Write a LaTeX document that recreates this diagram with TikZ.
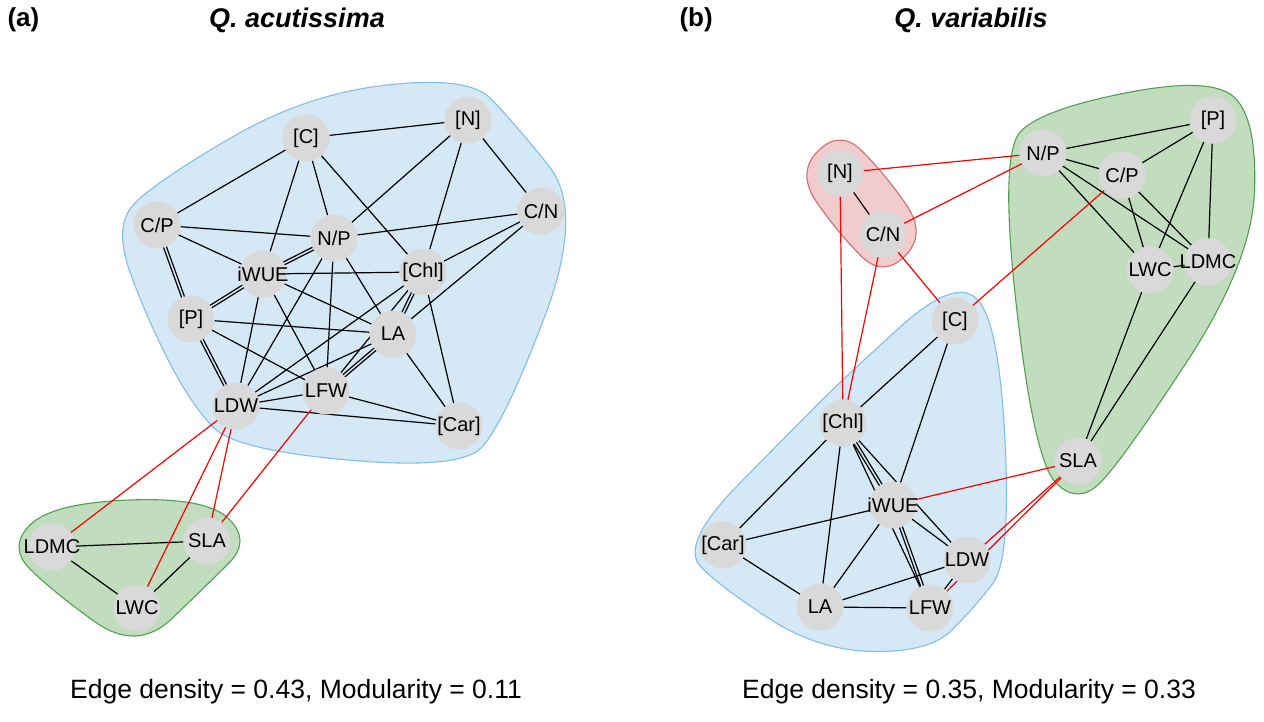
\documentclass[tikz,border=0pt]{standalone}
\usepackage{fontspec}
\setmainfont{Liberation Sans}
\usetikzlibrary{calc}
\pgfdeclarelayer{bg}\pgfdeclarelayer{edges}
\pgfsetlayers{bg,edges,main}
\definecolor{nodegray}{RGB}{217,217,217}
\definecolor{bluefill}{RGB}{212,232,245}
\definecolor{blueline}{RGB}{130,190,230}
\definecolor{greenfill}{RGB}{193,221,190}
\definecolor{greenline}{RGB}{80,160,80}
\definecolor{redfill}{RGB}{242,204,204}
\definecolor{redline}{RGB}{205,110,110}
\definecolor{edgered}{RGB}{255,0,0}
\newcommand\mkl[1]{\makebox[0pt]{#1}}
\newcommand\dbl[3][]{%
  \draw[edge,#1] ($(#2)!1.5pt!90:(#3)$) -- ($(#3)!1.5pt!-90:(#2)$);
  \draw[edge,#1] ($(#2)!1.5pt!-90:(#3)$) -- ($(#3)!1.5pt!90:(#2)$);}
\newcommand\blob[3]{% style, start pair, list
  \path[#1] ($#2$) foreach \pa/\cu/\nx in {#3} { .. controls ($(\cu)!.1667!(\pa)$) and ($(\cu)!.1667!(\nx)$) .. ($(\cu)!.5!(\nx)$) } -- cycle;}
\begin{document}
\begin{tikzpicture}[x=1pt,y=-1pt,
  vert/.style={circle, fill=nodegray, minimum size=47pt, inner sep=0pt, font=\fontsize{20}{20}\selectfont},
  edge/.style={line width=1.2pt, black},
  redge/.style={line width=1.2pt, edgered},
  bluehull/.style={fill=bluefill, draw=blueline, line width=1.1pt},
  greenhull/.style={fill=greenfill, draw=greenline, line width=1.1pt},
  redhull/.style={fill=redfill, draw=redline, line width=1.1pt},
  hdr/.style={font=\fontsize{26}{26}\selectfont\bfseries},
  ttl/.style={font=\fontsize{27}{27}\selectfont\bfseries\itshape},
  foot/.style={font=\fontsize{26.5}{26.5}\selectfont}]
\useasboundingbox (0,0) rectangle (1264,722);
% titles
\node[hdr, anchor=west] (lbla) at (4,20) {(a)};
\node[ttl] (ttla) at (297,20) {Q. acutissima};
\node[hdr, anchor=west] (lblb) at (676,20) {(b)};
\node[ttl] (ttlb) at (971,20) {Q. variabilis};
\node[foot] (fta) at (296,692) {Edge density = 0.43, Modularity = 0.11};
\node[foot] (ftb) at (969,692) {Edge density = 0.35, Modularity = 0.33};
% ---------- panel (a) nodes
\node[vert] (aC) at (306,138) {\mkl{[C]}};
\node[vert] (aN) at (468,120) {\mkl{[N]}};
\node[vert] (aCN) at (541,211) {\mkl{C/N}};
\node[vert] (aCP) at (157,225) {\mkl{C/P}};
\node[vert] (aNP) at (334,238) {\mkl{N/P}};
\node[vert] (aW) at (263,274) {\mkl{iWUE}};
\node[vert] (aChl) at (423,272) {\mkl{[Chl]}};
\node[vert] (aP) at (191,319) {\mkl{[P]}};
\node[vert] (aLA) at (393,334) {\mkl{LA}};
\node[vert] (aLFW) at (326,391) {\mkl{LFW}};
\node[vert] (aLDW) at (236,406) {\mkl{LDW}};
\node[vert] (aCar) at (459,426) {\mkl{[Car]}};
\node[vert] (aLDMC) at (52,547) {\mkl{LDMC}};
\node[vert] (aSLA) at (207,541) {\mkl{SLA}};
\node[vert] (aLWC) at (137,608) {\mkl{LWC}};
% ---------- panel (b) nodes
\node[vert] (bN) at (840,173) {\mkl{[N]}};
\node[vert] (bCN) at (883,234) {\mkl{C/N}};
\node[vert] (bNP) at (1043,153) {\mkl{N/P}};
\node[vert] (bP) at (1213,120) {\mkl{[P]}};
\node[vert] (bCP) at (1122,175) {\mkl{C/P}};
\node[vert] (bLWC) at (1150,270) {\mkl{LWC}};
\node[vert] (bLDMC) at (1208,262) {\mkl{LDMC}};
\node[vert] (bC) at (955,321) {\mkl{[C]}};
\node[vert] (bChl) at (843,423) {\mkl{[Chl]}};
\node[vert] (bSLA) at (1078,461) {\mkl{SLA}};
\node[vert] (bW) at (893,505) {\mkl{iWUE}};
\node[vert] (bCar) at (723,545) {\mkl{[Car]}};
\node[vert] (bLDW) at (967,560) {\mkl{LDW}};
\node[vert] (bLA) at (820,607) {\mkl{LA}};
\node[vert] (bLFW) at (930,608) {\mkl{LFW}};
% ---------- hull control points
\def\dd{44}
% (a) blue
\coordinate (ab1) at ($(aCP)+(-\dd,0)$);
\coordinate (ab2) at ($(aCP)+(0,-\dd)$);
\coordinate (ab3) at ($(aC)+(0,-\dd)$);
\coordinate (ab4) at ($(aN)+(0,-\dd)$);
\coordinate (ab5) at ($(aN)+(\dd,0)$);
\coordinate (ab6) at ($(aCN)+(\dd,0)$);
\coordinate (ab7) at ($(aCar)+(\dd,0)$);
\coordinate (ab8) at ($(aCar)+(0,\dd)$);
\coordinate (ab9) at ($(aLDW)+(0,\dd)$);
\coordinate (ab10) at ($(aLDW)+(-\dd,0)$);
\coordinate (ab11) at ($(aP)+(-\dd,0)$);
% (a) green
\coordinate (ag1) at ($(aLDMC)+(-\dd,0)$);
\coordinate (ag2) at ($(aLDMC)+(0,-\dd)$);
\coordinate (ag3) at ($(aSLA)+(0,-\dd)$);
\coordinate (ag4) at ($(aSLA)+(\dd,0)$);
\coordinate (ag5) at ($(aSLA)+(0,\dd)$);
\coordinate (ag6) at ($(aLWC)+(0,\dd)$);
\coordinate (ag7) at ($(aLDMC)+(0,\dd)$);
% (b) red
\coordinate (br1) at ($(bN)+(-\dd,0)$);
\coordinate (br2) at ($(bN)+(0,-\dd)$);
\coordinate (br3) at ($(bN)+(\dd,0)$);
\coordinate (br4) at ($(bCN)+(\dd,0)$);
\coordinate (br5) at ($(bCN)+(0,\dd)$);
\coordinate (br6) at ($(bCN)+(-\dd,0)$);
% (b) blue
\coordinate (bb1) at ($(bCar)+(-\dd,0)$);
\coordinate (bb2) at ($(bChl)+(-\dd,0)$);
\coordinate (bb3) at ($(bChl)+(0,-\dd)$);
\coordinate (bb4) at ($(bC)+(0,-\dd)$);
\coordinate (bb5) at ($(bC)+(\dd,0)$);
\coordinate (bb6) at ($(bLDW)+(\dd,0)$);
\coordinate (bb7) at ($(bLFW)+(\dd,0)$);
\coordinate (bb8) at ($(bLFW)+(0,\dd)$);
\coordinate (bb9) at ($(bLA)+(0,\dd)$);
\coordinate (bb10) at ($(bCar)+(0,\dd)$);
% (b) green
\coordinate (bg1) at ($(bNP)+(-\dd,0)$);
\coordinate (bg2) at ($(bNP)+(0,-\dd)$);
\coordinate (bg3) at ($(bP)+(0,-\dd)$);
\coordinate (bg4) at ($(bP)+(\dd,0)$);
\coordinate (bg5) at ($(bLDMC)+(\dd,0)$);
\coordinate (bg6) at ($(bSLA)+(\dd,0)$);
\coordinate (bg7) at ($(bSLA)+(0,\dd)$);
\coordinate (bg8) at ($(bSLA)+(-\dd,0)$);
\begin{pgfonlayer}{bg}
\fill[white] (0,0) rectangle (1264,722);
\blob{bluehull}{(ab11)!.5!(ab1)}{ab11/ab1/ab2, ab1/ab2/ab3, ab2/ab3/ab4, ab3/ab4/ab5, ab4/ab5/ab6, ab5/ab6/ab7, ab6/ab7/ab8, ab7/ab8/ab9, ab8/ab9/ab10, ab9/ab10/ab11, ab10/ab11/ab1}
\blob{greenhull}{(ag7)!.5!(ag1)}{ag7/ag1/ag2, ag1/ag2/ag3, ag2/ag3/ag4, ag3/ag4/ag5, ag4/ag5/ag6, ag5/ag6/ag7, ag6/ag7/ag1}
\blob{redhull}{(br6)!.5!(br1)}{br6/br1/br2, br1/br2/br3, br2/br3/br4, br3/br4/br5, br4/br5/br6, br5/br6/br1}
\blob{bluehull}{(bb10)!.5!(bb1)}{bb10/bb1/bb2, bb1/bb2/bb3, bb2/bb3/bb4, bb3/bb4/bb5, bb4/bb5/bb6, bb5/bb6/bb7, bb6/bb7/bb8, bb7/bb8/bb9, bb8/bb9/bb10, bb9/bb10/bb1}
\blob{greenhull}{(bg8)!.5!(bg1)}{bg8/bg1/bg2, bg1/bg2/bg3, bg2/bg3/bg4, bg3/bg4/bg5, bg4/bg5/bg6, bg5/bg6/bg7, bg6/bg7/bg8, bg7/bg8/bg1}
\end{pgfonlayer}
\begin{pgfonlayer}{edges}
% ---- (a) black
\foreach \u/\v in {aC/aN, aC/aCP, aC/aW, aC/aNP, aC/aChl, aN/aNP, aN/aChl, aN/aCN,
  aCN/aNP, aCN/aChl, aCN/aLA, aCP/aNP, aCP/aW, aNP/aLA, aNP/aLFW, aNP/aLDW,
  aW/aChl, aW/aLA, aW/aLFW, aW/aLDW, aChl/aLDW, aChl/aLFW, aChl/aCar,
  aP/aLA, aP/aLFW, aLA/aLDW, aLA/aCar, aLFW/aLDW, aLFW/aCar, aLDW/aCar,
  aLDMC/aSLA, aLDMC/aLWC, aSLA/aLWC}
  {\draw[edge] (\u) -- (\v);}
\dbl{aCP}{aP}
\dbl{aP}{aW}
\dbl{aW}{aNP}
\dbl{aP}{aLDW}
\dbl{aChl}{aLA}
\dbl{aLA}{aLFW}
% ---- (a) red
\foreach \u/\v in {aLDW/aLDMC, aLDW/aLWC, aLDW/aSLA, aLFW/aSLA}
  {\draw[redge] (\u) -- (\v);}
% ---- (b) black
\foreach \u/\v in {bN/bCN, bNP/bP, bNP/bCP, bNP/bLWC, bNP/bLDMC, bCP/bP, bCP/bLWC, bCP/bLDMC,
  bP/bLWC, bP/bLDMC, bLWC/bLDMC, bLWC/bSLA, bLDMC/bSLA,
  bC/bChl, bC/bW, bChl/bCar, bChl/bLA, bChl/bLDW, bChl/bLFW, bW/bCar, bW/bLA, bW/bLDW,
  bCar/bLA, bLA/bLDW, bLA/bLFW, bLDW/bLFW}
  {\draw[edge] (\u) -- (\v);}
\dbl{bChl}{bW}
\dbl{bW}{bLFW}
% ---- (b) red
\foreach \u/\v in {bN/bNP, bCN/bNP, bN/bChl, bCN/bChl, bCN/bC, bCP/bC, bSLA/bW, bSLA/bLDW, bSLA/bLFW}
  {\draw[redge] (\u) -- (\v);}
\end{pgfonlayer}
\end{tikzpicture}
\end{document}
